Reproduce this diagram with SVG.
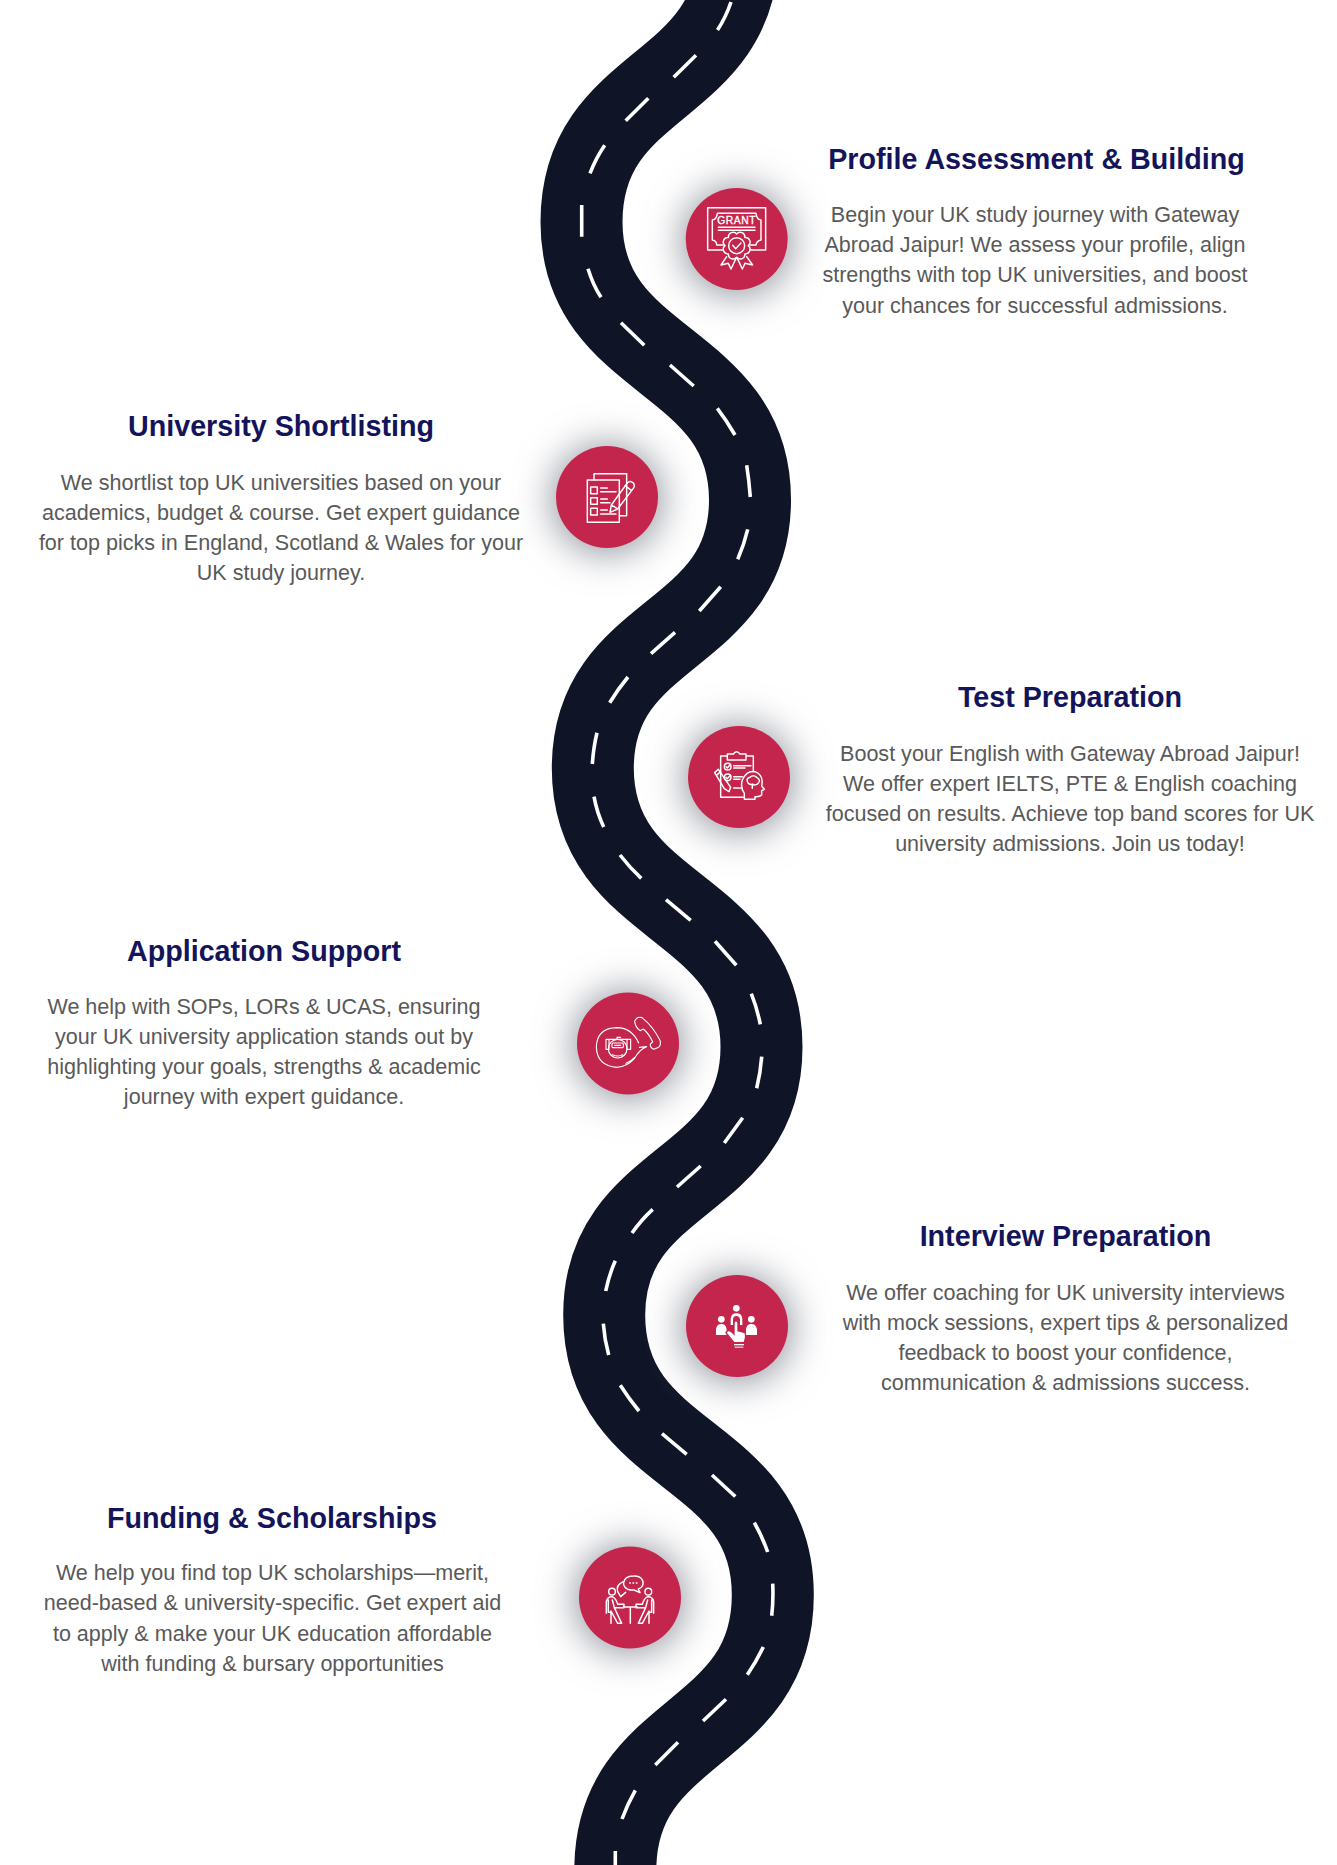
<svg xmlns="http://www.w3.org/2000/svg" width="1337" height="1865" viewBox="0 0 1337 1865">
<defs>
<filter id="blur" x="-100%" y="-100%" width="300%" height="300%"><feGaussianBlur stdDeviation="19"/></filter>
</defs>
<style>
.h{font-family:"Liberation Sans",Arial,sans-serif;font-weight:700;font-size:28.7px;fill:#14145a;text-anchor:middle}
.b{font-family:"Liberation Sans",Arial,sans-serif;font-size:21.55px;fill:#595959;text-anchor:middle}
.c{fill:#c4254c}
.s{fill:#8e919b;filter:url(#blur)}
.i{fill:none;stroke:#fff;stroke-width:4.4;stroke-linecap:round;stroke-linejoin:round}
.t{stroke-width:3.4}
.f{fill:#fff;stroke:none}
.road{fill:none;stroke:#0f1427;stroke-width:82}
.dash{fill:none;stroke:#fff;stroke-width:3.6}
</style>
<rect width="1337" height="1865" fill="#fff"/>
<g id="connectors">
<path id="road" class="road" d="M738,-52 C738,93 581.5,77 581.5,222 C581.5,367 750,355 750,500 C750,641 592.8,627 592.8,768 C592.8,914 761.5,901 761.5,1047 C761.5,1188 604.2,1174 604.2,1315 C604.2,1463 772.8,1447 772.8,1595 C772.8,1740 615.3,1725 615.3,1870"/>
<path id="centerline" class="dash" d="M731,2 Q726,17 717.5,30 M696,55.3 L673.7,77.3 M648.3,98.3 L625.7,120.7 M604.7,145.3 Q596,158 590,173.3 M581.7,205 L581.7,236.7 M588,268.7 Q593,285 601,297.3 M621,322.7 L644.3,345.3 M670,365 L693.7,386 M717.3,408.3 Q727,421 735,435 M746.7,465.3 Q749,480 750.3,497 M747.7,529.3 Q744,545 737.7,559.3 M720.7,586.7 L699.3,611 M675,632.3 L651,653.7 M628,677 Q618,689 609.7,702.7 M597,732.7 Q593.5,747 592.3,764 M594,796.7 Q597,813 603.7,827 M620,855 Q630,868 641.3,878.3 M666,899.7 L690.7,920.3 M715,941.3 L736.3,965.3 M751.3,993.7 Q757,1008 760.3,1024.3 M761.7,1056.7 Q760.5,1073 756.7,1088.3 M742.7,1117.7 L724.3,1143 M700.7,1166 L677,1187 M652.7,1209.3 Q641,1220 632,1233 M615.3,1260.7 Q609,1275 605.7,1291 M603.3,1323.7 Q604.5,1340 608.7,1355 M620.3,1385.3 Q629,1399 639,1411 M662,1433.7 L686.7,1454.3 M712,1475 L735.3,1496.5 M754.3,1522.7 Q762,1536 767.7,1552 M772.7,1583.7 Q773.5,1600 771.7,1615.7 M763.3,1647 Q756,1662 747.3,1674.7 M726,1699.3 L703,1721 M678,1742.3 L655.3,1765 M635.3,1790.3 Q627.5,1804 622,1819 M615.3,1851 L615.3,1865"/>
</g>

<g id="node-1">
<circle class="s" cx="737" cy="241" r="54"/><circle class="c" cx="736.7" cy="239" r="51"/>
<g transform="translate(660,170) scale(.3333)">
<path class="i" d="M190,240 H143 V113 H317 V240 H270"/>
<path class="i" d="M190,225 H170 Q170,212 157,210 V150 Q170,148 172,130 H288 Q290,148 303,150 V210 Q290,212 288,225 H270"/>
<text x="230" y="163" font-family="Liberation Sans, Arial, sans-serif" font-size="31" letter-spacing="1.5" fill="#fff" stroke="#fff" stroke-width="1" text-anchor="middle">GRANT</text>
<path class="i" d="M175,172 H285 M175,181 H285"/>
<path class="i" d="M265,227 A14,14 0 0 1 254.7,251.7 A14,14 0 0 1 230,262 A14,14 0 0 1 205.3,251.7 A14,14 0 0 1 195,227 A14,14 0 0 1 205.3,202.3 A14,14 0 0 1 230,192 A14,14 0 0 1 254.7,202.3 A14,14 0 0 1 265,227 Z" fill="#c4254c"/>
<circle class="i" cx="230" cy="227" r="24"/>
<path class="i" d="M218,226 L227,236 L243,219"/>
<path class="i" d="M200,260 L183,285 L205,280 L213,297 L228,265 M260,260 L278,285 L255,280 L247,297 L232,265"/>
</g>
</g>
<g id="node-2">
<circle class="s" cx="607" cy="499" r="54"/><circle class="c" cx="607" cy="497" r="51"/>
<g transform="translate(530,425) scale(.3333)">
<path class="i" d="M192,165 V146 H290 V272 H268"/>
<rect class="i" x="172" y="165" width="96" height="127"/>
<rect class="i" x="182" y="186" width="20" height="20"/>
<rect class="i" x="182" y="218" width="20" height="20"/>
<rect class="i" x="182" y="250" width="20" height="20"/>
<path class="i" d="M212,189 H232 M212,200 H258 M212,222 H232 M212,233 H240 M212,255 H232 M212,267 H258"/>
<path class="i" d="M240,262 L244,240 L292,174 Q300,165 310,174 Q316,182 310,190 L263,252 Z M285,182 L305,197 M244,240 L263,252" fill="#c4254c"/>
</g>
</g>
<g id="node-3">
<circle class="s" cx="739" cy="779" r="54"/><circle class="c" cx="739" cy="777" r="51"/>
<g transform="translate(665,700) scale(.3333)">
<path class="i" d="M185,168 H167 V292 H235 M245,168 H265 V215"/>
<path class="i" d="M187,180 V162 H205 Q215,148 225,162 H243 V180 Z"/>
<circle class="i" cx="188" cy="200" r="10"/><circle class="i" cx="188" cy="232" r="10"/>
<path class="i" d="M183,200 L187,204 L194,196 M183,232 L187,236 L194,228 M206,197 H258 M206,204 H240 M206,230 H232 M206,238 H225 M206,264 H232"/>
<path class="i" d="M149,218 L160,208 L197,262 L192,275 L178,266 Z M157,224 L167,215" fill="#c4254c"/>
<path class="i" d="M238,298 V280 Q225,262 232,240 Q245,210 270,215 Q297,225 290,258 L298,268 L290,272 V285 Q285,291 270,290 V298 Z" fill="#c4254c"/>
<path class="i" d="M250,250 Q240,236 255,232 Q265,222 275,232 Q290,240 278,252 Q268,258 262,252 V265 M250,250 Q258,256 262,252"/>
</g>
</g>
<g id="node-4">
<circle class="s" cx="628" cy="1045" r="54"/><circle class="c" cx="628" cy="1043.5" r="51"/>
<g transform="translate(552,962) scale(.3333)">
<path class="i t" d="M248,178 Q255,162 270,167 Q302,192 324,235 Q328,250 320,256 L306,262 Q294,258 295,246 L302,240 Q292,216 274,201 L264,206 Q250,196 248,178 Z"/>
<path class="i t" d="M260,243 Q240,198 195,197 Q135,198 133,255 Q135,312 195,316 Q225,314 247,290 Q262,262 284,254 L262,256 M222,304 Q238,298 248,286"/>
<circle class="i t" cx="197" cy="260" r="28"/>
<rect class="i t" x="180" y="243" width="34" height="14" rx="3"/>
<path class="i t" d="M172,232 H224 M162,232 H171 V262 H162 Z M225,232 H236 V262 H225 Z M195,232 V226 H206 M188,250 H206 M182,278 Q197,286 212,278"/>
</g>
</g>
<g id="node-5">
<circle class="s" cx="737" cy="1328" r="54"/><circle class="c" cx="737" cy="1326" r="51"/>
<g transform="translate(660,1240) scale(.3333)">
<circle class="f" cx="184" cy="238" r="10"/><circle class="f" cx="274" cy="238" r="10"/><circle class="f" cx="229" cy="205" r="10"/>
<path class="f" d="M168,285 V268 Q170,252 184,252 Q198,252 200,268 V285 Z M258,285 V268 Q260,252 274,252 Q288,252 291,268 V285 Z"/>
<path class="f" d="M212,255 V236 Q214,220 229,220 Q246,220 247,236 V255 H240 V238 Q238,228 229,228 Q220,228 219,238 V255 Z"/>
<path class="f" d="M222,248 Q228,236 234,248 V272 L255,278 Q260,290 252,308 H222 L198,278 Q205,264 222,282 Z" style="stroke:#c4254c;stroke-width:4"/>
<rect class="f" x="222" y="312" width="30" height="4"/><rect class="f" x="224" y="320" width="26" height="3"/>
</g>
</g>
<g id="node-6">
<circle class="s" cx="630" cy="1599" r="54"/><circle class="c" cx="630" cy="1597.5" r="51"/>
<g transform="translate(555,1505) scale(.3333)">
<path class="i" d="M205,230 Q182,240 188,260 L197,275 L212,262"/>
<path class="i" d="M235,213 C262,211 268,232 262,243 Q258,250 250,252 L255,263 L237,255 C210,258 204,240 206,232 Q210,213 235,213 Z" fill="#c4254c"/>
<path class="i" d="M224,234 H226 M234,234 H236 M244,234 H246"/>
<circle class="i" cx="171" cy="260" r="10"/><circle class="i" cx="280" cy="260" r="10"/>
<path class="i" d="M205,306 H247 M226,306 V355"/>
<path class="i" d="M154,325 V290 Q156,275 172,275 Q183,280 188,298 H207 V308 H178 L200,355 H188 L168,318 V355 M160,285 V322 H168 M178,308 L172,285"/>
<path class="i" d="M296,325 V290 Q294,275 278,275 Q267,280 262,298 H243 V308 H272 L250,355 H262 L282,318 V355 M290,285 V322 H282 M272,308 L278,285"/>
</g>
</g>

<g id="text-1"><text class="h" x="1036.5" y="169">Profile Assessment &amp; Building</text>
<text class="b" x="1035" y="222">Begin your UK study journey with Gateway</text>
<text class="b" x="1035" y="252">Abroad Jaipur! We assess your profile, align</text>
<text class="b" x="1035" y="282">strengths with top UK universities, and boost</text>
<text class="b" x="1035" y="312.6">your chances for successful admissions.</text></g>
<g id="text-2"><text class="h" x="281" y="436">University Shortlisting</text>
<text class="b" x="281" y="490">We shortlist top UK universities based on your</text>
<text class="b" x="281" y="520">academics, budget &amp; course. Get expert guidance</text>
<text class="b" x="281" y="550">for top picks in England, Scotland &amp; Wales for your</text>
<text class="b" x="281" y="580">UK study journey.</text></g>
<g id="text-3"><text class="h" x="1070" y="707">Test Preparation</text>
<text class="b" x="1070" y="761">Boost your English with Gateway Abroad Jaipur!</text>
<text class="b" x="1070" y="791">We offer expert IELTS, PTE &amp; English coaching</text>
<text class="b" x="1070" y="821">focused on results. Achieve top band scores for UK</text>
<text class="b" x="1070" y="851">university admissions. Join us today!</text></g>
<g id="text-4"><text class="h" x="264" y="961">Application Support</text>
<text class="b" x="264" y="1014">We help with SOPs, LORs &amp; UCAS, ensuring</text>
<text class="b" x="264" y="1044">your UK university application stands out by</text>
<text class="b" x="264" y="1074">highlighting your goals, strengths &amp; academic</text>
<text class="b" x="264" y="1104">journey with expert guidance.</text></g>
<g id="text-5"><text class="h" x="1065.5" y="1246">Interview Preparation</text>
<text class="b" x="1065.5" y="1300">We offer coaching for UK university interviews</text>
<text class="b" x="1065.5" y="1330">with mock sessions, expert tips &amp; personalized</text>
<text class="b" x="1065.5" y="1360">feedback to boost your confidence,</text>
<text class="b" x="1065.5" y="1390">communication &amp; admissions success.</text></g>
<g id="text-6"><text class="h" x="272" y="1527.5">Funding &amp; Scholarships</text>
<text class="b" x="272.5" y="1580">We help you find top UK scholarships—merit,</text>
<text class="b" x="272.5" y="1610.4">need-based &amp; university-specific. Get expert aid</text>
<text class="b" x="272.5" y="1640.6">to apply &amp; make your UK education affordable</text>
<text class="b" x="272.5" y="1671">with funding &amp; bursary opportunities</text></g>
</svg>
